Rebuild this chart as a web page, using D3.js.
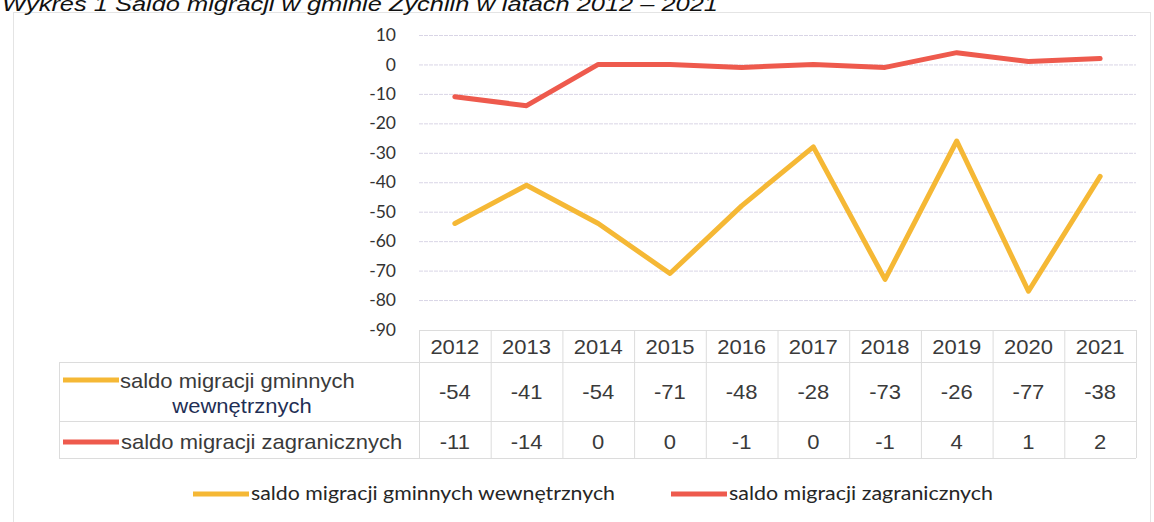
<!DOCTYPE html>
<html>
<head>
<meta charset="utf-8">
<script src="https://cdn.jsdelivr.net/npm/d3@7"></script>
<style>
  body { margin: 0; background: #fff; }
  svg { display: block; }
</style>
</head>
<body>
<script>
// data
const years = ["2012","2013","2014","2015","2016","2017","2018","2019","2020","2021"];
const internalSaldo = [-54, -41, -54, -71, -48, -28, -73, -26, -77, -38];
const foreignSaldo = [-11, -14, 0, 0, -1, 0, -1, 4, 1, 2];
const yTicks = [10, 0, -10, -20, -30, -40, -50, -60, -70, -80, -90];
const seriesNames = ["saldo migracji gminnych wewnętrznych", "saldo migracji zagranicznych"];
const title = "Wykres 1 Saldo migracji w gminie Żychlin w latach 2012 – 2021";

const W = 1154, H = 522;
const yellow = "#f5b835", red = "#ee5a4d";
const tableFont = "'Liberation Sans', Arial, sans-serif";
const calFont = "Lato, 'Open Sans', sans-serif";

const svg = d3.select("body").append("svg")
    .attr("width", W).attr("height", H);

// chart frame
svg.append("rect")
    .attr("x", 13.5).attr("y", 12.5)
    .attr("width", 1137).attr("height", 530)
    .attr("fill", "none").attr("stroke", "#e4e4e4");

// title (cut at the top in the scan)
svg.append("text")
    .attr("x", 2).attr("y", 11)
    .attr("font-family", tableFont).attr("font-style", "italic")
    .attr("font-size", 21).attr("fill", "#111")
    .attr("textLength", 716).attr("lengthAdjust", "spacingAndGlyphs")
    .text(title);

const x = d3.scaleBand().domain(years).range([419, 1136]);
const y = d3.scaleLinear().domain([-90, 10]).range([329.5, 35]);
const cx = d => x(d) + x.bandwidth() / 2;

// gridlines
svg.append("g")
    .attr("transform", `translate(${x.range()[0]},0)`)
    .call(d3.axisLeft(y).tickValues(yTicks.slice(0, -1)).tickSize(-(x.range()[1] - x.range()[0])).tickFormat(""))
    .call(g => g.select(".domain").remove())
    .call(g => g.selectAll("line").attr("stroke", "#d9d5e6").attr("stroke-dasharray", "4,1"));

// y axis labels
svg.append("g")
    .attr("transform", "translate(396,0)")
    .call(d3.axisLeft(y).tickValues(yTicks).tickSize(0).tickPadding(0).tickFormat(d => String(d)))
    .call(g => g.select(".domain").remove())
    .call(g => g.selectAll("text")
        .attr("font-family", calFont).attr("font-size", 17.5).attr("fill", "#333"));

// lines
const line = d3.line().x((d, i) => cx(years[i])).y(d => y(d));
[[internalSaldo, yellow], [foreignSaldo, red]].forEach(([vals, col]) => {
  svg.append("path")
      .datum(vals)
      .attr("d", line)
      .attr("fill", "none")
      .attr("stroke", col)
      .attr("stroke-width", 5)
      .attr("stroke-linejoin", "round")
      .attr("stroke-linecap", "round");
});

// data table
const tblLeft = 59, tblRight = x.range()[1];
const rowY = [330, 362, 421, 458];
const grid = svg.append("g").attr("stroke", "#dcdcdc").attr("stroke-width", 1);
grid.append("line").attr("x1", x.range()[0]).attr("x2", tblRight).attr("y1", rowY[0] + .5).attr("y2", rowY[0] + .5);
[rowY[1], rowY[2], rowY[3]].forEach(yy => {
  grid.append("line").attr("x1", tblLeft).attr("x2", tblRight).attr("y1", yy + .5).attr("y2", yy + .5);
});
grid.append("line").attr("x1", tblLeft + .5).attr("x2", tblLeft + .5).attr("y1", rowY[1]).attr("y2", rowY[3]);
years.forEach(yr => {
  grid.append("line").attr("x1", x(yr) + .5).attr("x2", x(yr) + .5).attr("y1", rowY[0]).attr("y2", rowY[3]);
});
grid.append("line").attr("x1", tblRight + .5).attr("x2", tblRight + .5).attr("y1", rowY[0]).attr("y2", rowY[3]);

const cellText = (xx, yy, t, anchor) => svg.append("text")
    .attr("x", xx).attr("y", yy)
    .attr("text-anchor", anchor || "middle")
    .attr("font-family", tableFont).attr("font-size", 20)
    .attr("fill", "#3a3a3a")
    .attr("transform", `translate(${xx},0) scale(1.1,1) translate(${-xx},0)`)
    .text(t);

years.forEach((yr, i) => {
  cellText(cx(yr), 354, yr);
  cellText(cx(yr), 399, internalSaldo[i]);
  cellText(cx(yr), 449, foreignSaldo[i]);
});

// row labels with series keys
svg.append("line").attr("x1", 63).attr("x2", 119).attr("y1", 380).attr("y2", 380)
    .attr("stroke", yellow).attr("stroke-width", 5);
cellText(120, 388, "saldo migracji gminnych", "start");
svg.append("text").attr("x", 242).attr("y", 413)
    .attr("text-anchor", "middle")
    .attr("font-family", tableFont).attr("font-size", 20)
    .attr("fill", "#1f2f55")
    .attr("transform", "translate(242,0) scale(1.1,1) translate(-242,0)")
    .text("wewnętrznych");

svg.append("line").attr("x1", 63).attr("x2", 119).attr("y1", 442).attr("y2", 442)
    .attr("stroke", red).attr("stroke-width", 5);
cellText(121, 449, seriesNames[1], "start");

// legend
const legend = [
  { name: seriesNames[0], color: yellow, x0: 193, x1: 249, w: 364 },
  { name: seriesNames[1], color: red, x0: 671, x1: 727, w: 264 }
];
legend.forEach(d => {
  svg.append("line").attr("x1", d.x0).attr("x2", d.x1).attr("y1", 494).attr("y2", 494)
      .attr("stroke", d.color).attr("stroke-width", 5);
  svg.append("text")
      .attr("x", d.x1 + 2).attr("y", 500)
      .attr("font-family", calFont).attr("font-size", 18.5)
      .attr("fill", "#262626")
      .attr("textLength", d.w).attr("lengthAdjust", "spacingAndGlyphs")
      .text(d.name);
});
</script>
</body>
</html>
